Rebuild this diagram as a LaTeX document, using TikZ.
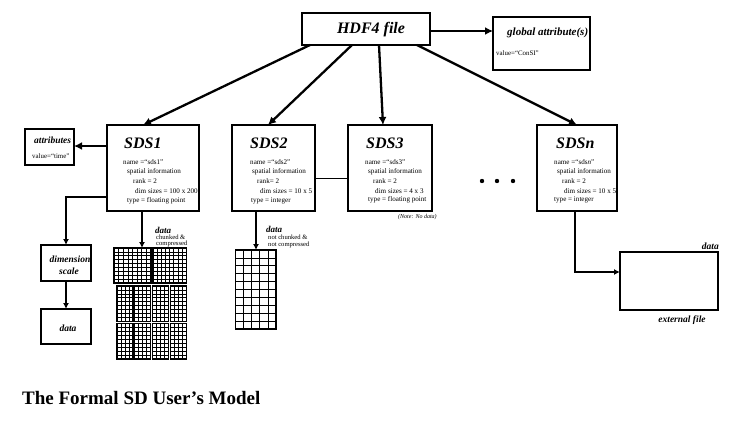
\documentclass[tikz,border=0pt]{standalone}
\usepackage{fontspec}
\setmainfont{Liberation Serif}
\usetikzlibrary{arrows.meta,calc}
\newcommand{\gridchunk}[6]{%
  \foreach \i in {1,...,#5}{\draw[gridline] ({#1+\i*#3/#5},#2) -- ++(0,#4);}
  \foreach \j in {1,...,#6}{\draw[gridline] (#1,{#2+\j*#4/#6}) -- ++(#3,0);}
  \draw[chunkline] (#1,#2) rectangle ++(#3,#4);
}
\newcommand{\fs}[1]{\fontsize{#1}{#1}\selectfont}
\tikzset{
  box/.style={draw, line width=1.1pt, outer sep=0pt, inner sep=0pt},
  bigarrow/.style={line width=2.3pt, -{Latex[length=8pt,width=8pt]}},
  midarrow/.style={line width=1.5pt, -{Latex[length=6pt,width=6pt]}},
  thinline/.style={line width=0.8pt},
  gridline/.style={line width=0.75pt},
  chunkline/.style={line width=1.1pt},
  body/.style={font=\fs{7.1}, inner sep=0pt, anchor=west},
  tiny/.style={font=\fs{6.9}, inner sep=0pt, anchor=west},
  sub/.style={font=\fs{6.6}, inner sep=0pt, anchor=west},
  sdstitle/.style={font=\fs{16}\bfseries\itshape, inner sep=0pt, anchor=west},
  lab/.style={font=\fs{9.5}\bfseries\itshape, inner sep=0pt},
}
\begin{document}
\begin{tikzpicture}[x=1pt,y=-1pt]
\useasboundingbox (0,0) rectangle (752,431);
% boxes
\node[box, minimum width=128pt, minimum height=32pt] (hdf) at (366,29) {};
\node[font=\fs{16}\bfseries\itshape] (hdft) at (371,30) {HDF4 file};
\node[box, minimum width=97pt, minimum height=53pt] (glob) at (541.5,43.5) {};
\node[font=\fs{11}\bfseries\itshape, inner sep=0pt, anchor=west] (globt) at (507,33) {global attribute(s)};
\node[tiny] (globv) at (496,53) {value=“ConSI”};

\node[box, minimum width=92pt, minimum height=86pt] (sds1) at (153,168) {};
\node[box, minimum width=83pt, minimum height=86pt] (sds2) at (273.5,168) {};
\node[box, minimum width=84pt, minimum height=86pt] (sds3) at (390,168) {};
\node[box, minimum width=80pt, minimum height=86pt] (sdsn) at (577,168) {};

\node[box, minimum width=49pt, minimum height=36pt] (attr) at (49.5,147) {};
\node[font=\fs{9.5}\bfseries\itshape, inner sep=0pt, anchor=west] (attrt) at (34,140) {attributes};
\node[tiny] (attrv) at (32,156) {value=“time”};

\node[box, minimum width=50pt, minimum height=36pt] (dim) at (66,263) {};
\node[lab] (dimt1) at (70,259) {dimension};
\node[lab] (dimt2) at (69,271) {scale};
\node[box, minimum width=50pt, minimum height=35pt] (dat) at (66,326.5) {};
\node[lab] (datt) at (68,328) {data};

\node[box, minimum width=98pt, minimum height=58pt] (ext) at (669,281) {};
\node[lab, anchor=east] (extd) at (719,246) {data};
\node[lab] (extf) at (682,320) {external file};

% SDS texts
\node[sdstitle] (t1) at (124,143) {SDS1};
\node[body] (n1) at (123,162) {name =“sds1”};
\node[body] (s1) at (127,172) {spatial information};
\node[body] (r1) at (133,181) {rank = 2};
\node[body] (d1) at (135,191) {dim sizes = 100 x 200};
\node[body] (y1) at (127,201) {type = floating point};

\node[sdstitle] (t2) at (250,143) {SDS2};
\node[body] (n2) at (250,162) {name =“sds2”};
\node[body] (s2) at (252,172) {spatial information};
\node[body] (r2) at (257,181) {rank= 2};
\node[body] (d2) at (260,191) {dim sizes = 10 x 5};
\node[body] (y2) at (251,201) {type = integer};

\node[sdstitle] (t3) at (366,143) {SDS3};
\node[body] (n3) at (365,162) {name =“sds3”};
\node[body] (s3) at (368,172) {spatial information};
\node[body] (r3) at (373,181) {rank = 2};
\node[body] (d3) at (375,191) {dim sizes = 4 x 3};
\node[body] (y3) at (368,200) {type = floating point};
\node[font=\fs{6}\itshape, inner sep=0pt, anchor=west] (note) at (398,217) {(Note: No data)};

\node[sdstitle] (tn) at (556,143) {SDS\textit{n}};
\node[body] (nn) at (554,162) {name =“sds\textit{n}”};
\node[body] (sn) at (557,172) {spatial information};
\node[body] (rn) at (562,181) {rank = 2};
\node[body] (dn) at (564,191) {dim sizes = 10 x 5};
\node[body] (yn) at (554,200) {type = integer};

% dots
\foreach \xx/\nm in {482/dA,497/dB,513/dC}{\fill (\xx,181) circle (2.2pt) node (\nm) {};}

% data labels
\node[lab, font=\fs{9}\bfseries\itshape, anchor=west] (g1d) at (155,230) {data};
\node[sub] (g1c1) at (156,237) {chunked \&};
\node[sub] (g1c2) at (156,244) {compressed};
\node[lab, font=\fs{9}\bfseries\itshape, anchor=west] (g2d) at (266,229.5) {data};
\node[sub] (g2c1) at (268,237.5) {not chunked \&};
\node[sub] (g2c2) at (268,244.5) {not compressed};

% grids
\coordinate (g1) at (142,248);
\coordinate (g2) at (256,250);
\gridchunk{114}{248}{18.5}{35}{4}{9}
\gridchunk{132.5}{248}{18.5}{35}{4}{9}
\gridchunk{153}{248}{16.5}{35}{4}{9}
\gridchunk{169.5}{248}{17}{35}{4}{9}
\foreach \yy in {286,323.5}{
  \gridchunk{117}{\yy}{16}{35.5}{4}{9}
  \gridchunk{134.5}{\yy}{16}{35.5}{4}{9}
  \gridchunk{152.5}{\yy}{16}{35.5}{4}{9}
  \gridchunk{170.5}{\yy}{16}{35.5}{4}{9}
}
\gridchunk{235.5}{250}{40.5}{79}{5}{10}

% connectors
\coordinate (aS) at ([yshift=22pt]sds1.west);
\coordinate (dS) at ([yshift=-29pt]sds1.west);
\coordinate (lS) at ([yshift=-10pt]sds2.east);
\coordinate (eW) at ([yshift=9pt]ext.west);
\draw[bigarrow] ([xshift=8pt]hdf.south west) -- ([xshift=-10pt]sds1.north);
\draw[bigarrow] ([xshift=50pt]hdf.south west) -- ([xshift=-5.5pt]sds2.north);
\draw[bigarrow] ([xshift=77pt]hdf.south west) -- ([xshift=-7pt]sds3.north);
\draw[bigarrow] ([xshift=115pt]hdf.south west) -- (sdsn.north);
\coordinate (hE) at ([yshift=-2pt]hdf.east);
\draw[bigarrow] (hE) -- (glob.west |- hE);
\draw[bigarrow] (aS) -- (attr.east |- aS);
\draw[midarrow] (dS) -| (dim.north);
\draw[midarrow] (dim.south) -- (dat.north);
\draw[midarrow] ([xshift=-11pt]sds1.south) -- (g1);
\draw[midarrow] ([xshift=-17.5pt]sds2.south) -- (g2);
\draw[thinline] (lS) -- (sds3.west |- lS);
\draw[midarrow] ([xshift=-2pt]sdsn.south) |- (eW);

% title
\node[font=\fs{19}\bfseries, inner sep=0pt, anchor=west] (title) at (22,398) {The Formal SD User’s Model};
\end{tikzpicture}
\end{document}
